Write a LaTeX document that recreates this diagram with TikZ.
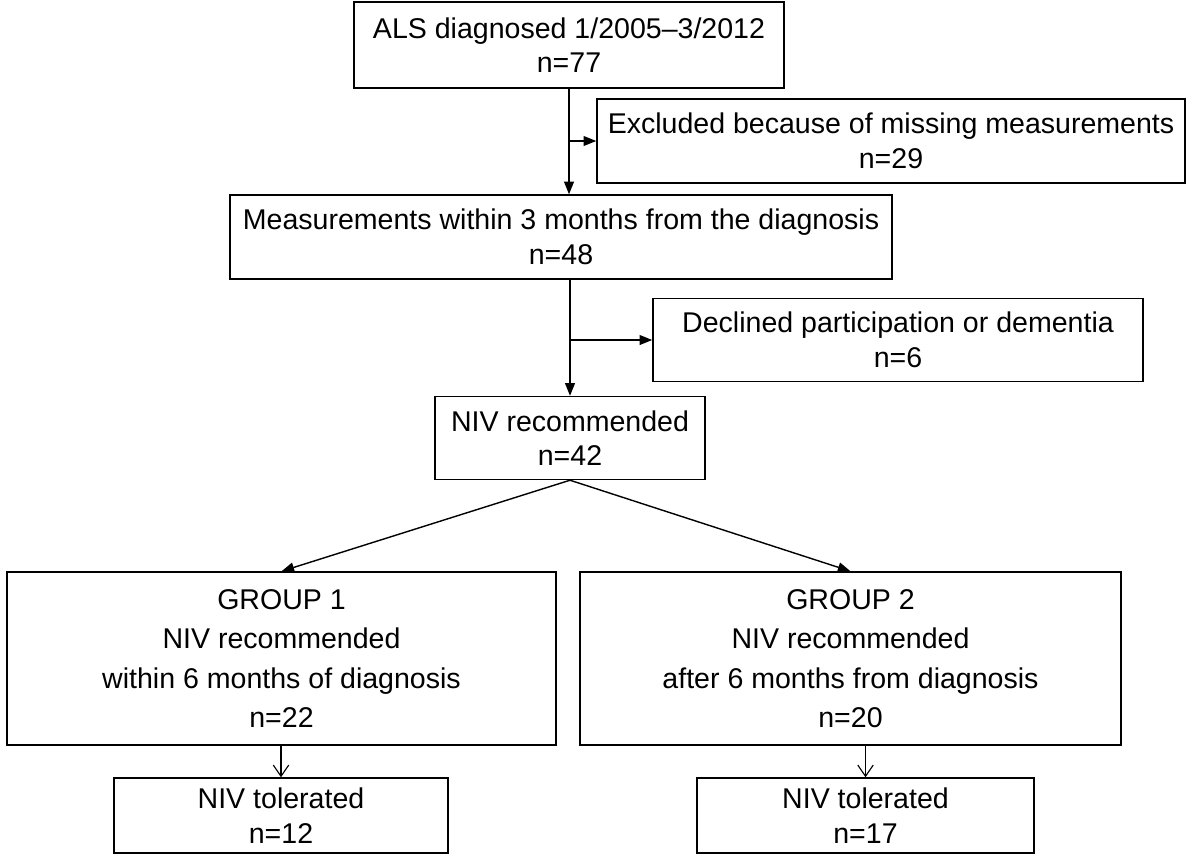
\documentclass[tikz,border=0pt]{standalone}
\usepackage{fontspec}
\setmainfont{Liberation Sans}
\usetikzlibrary{arrows.meta}

\tikzset{
  box/.style={draw, line width=1pt, align=center, inner sep=0pt},
  groupbox/.style={box, font=\fontsize{20.3}{28}\selectfont},
  flow/.style={line width=1pt, -{Triangle[length=9pt,width=7pt]}},
  openflow/.style={line width=0.8pt, -{Straight Barb[length=8pt,width=11pt]}},
}

\begin{document}
\begin{tikzpicture}[x=0.025cm, y=-0.025cm, font=\fontsize{20.3}{24.5}\selectfont]
  \useasboundingbox (0,0) rectangle (1200,855);

  % Boxes
  \node[box, minimum width=10.75cm, minimum height=2.15cm] at(569,45)(als){ALS diagnosed 1/2005--3/2012\\n=77};
  \node[box, minimum width=14.7cm, minimum height=2.1cm] at(891,141)(excl){Excluded because of missing measurements\\n=29};
  \node[box, minimum width=16.55cm, minimum height=2.1cm] at(561,237)(meas){Measurements within 3 months from the diagnosis\\n=48};
  \node[box, minimum width=12.25cm, minimum height=2.075cm] at(898,340)(decl){Declined participation or dementia\\n=6};
  \node[box, minimum width=6.75cm, minimum height=2.075cm] at(570,438)(niv){NIV recommended\\n=42};

  \node[groupbox, minimum width=13.725cm, minimum height=4.325cm] at(281.5,658.5)(g1){GROUP 1\\NIV recommended\\within 6 months of diagnosis\\n=22};
  \node[groupbox, minimum width=13.525cm, minimum height=4.325cm] at(850.5,658.5)(g2){GROUP 2\\NIV recommended\\after 6 months from diagnosis\\n=20};

  \node[box, minimum width=8.35cm, minimum height=1.875cm] at(281,815.5)(t1){NIV tolerated\\n=12};
  \node[box, minimum width=8.425cm, minimum height=1.875cm] at(865.5,815.5)(t2){NIV tolerated\\n=17};

  % Connectors
  \draw[flow] (als.south) -- (als.south |- meas.north);
  \draw[flow] (als.south |- excl.west) -- (excl.west);
  \draw[flow] (niv.north |- meas.south) -- (niv.north);
  \draw[flow] (niv.north |- decl.west) -- (decl.west);
  \draw[flow] (niv.south) -- (g1.north);
  \draw[flow] (niv.south) -- (g2.north);
  \draw[openflow] (t1.north |- g1.south) -- (t1.north);
  \draw[openflow] (t2.north |- g2.south) -- (t2.north);

\end{tikzpicture}
\end{document}
